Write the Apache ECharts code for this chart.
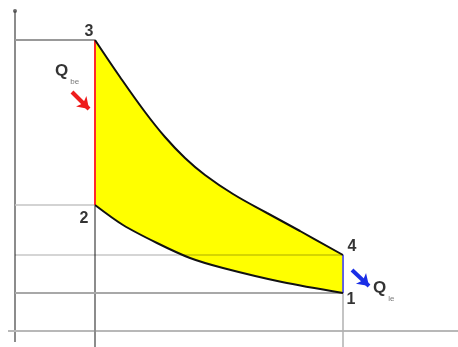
<!DOCTYPE html>
<html>
<head>
<meta charset="utf-8">
<script src="https://cdn.jsdelivr.net/npm/echarts@6/dist/echarts.min.js"></script>
<style>
html,body{margin:0;padding:0;background:#fff;}
#c{width:458px;height:347px;}
</style>
</head>
<body>
<div id="c"></div>
<script>
// Otto cycle p-V diagram (arbitrary units)
const V_upper = [4, 5.25, 6.5, 7.5, 8.5, 9.5, 10.9, 12.6, 14.25, 16.4];      // 3 -> 4 expansion
const p_upper = [14.55, 12.7, 10.95, 9.7, 8.65, 7.8, 6.85, 5.9, 5.0, 3.8];
const V_lower = [4, 5.4, 7.1, 8.75, 10.4, 13.35, 16.4];                       // 2 -> 1 compression (left to right)
const p_lower = [6.3, 5.3, 4.4, 3.65, 3.15, 2.45, 1.9];
const stateNames = ['1', '2', '3', '4'];
const heatIn = 'be';
const heatOut = 'le';

const upper = V_upper.map((v, i) => [v, p_upper[i]]);
const lower = V_lower.map((v, i) => [v, p_lower[i]]);
const P3 = upper[0], P4 = upper[upper.length - 1];
const P2 = lower[0], P1 = lower[lower.length - 1];

const chart = echarts.init(document.getElementById('c'));

function seg(a, b, color, width, z) {
  return {
    type: 'line', data: [a, b], symbol: 'none', silent: true, z: z || 1,
    lineStyle: { color: color, width: width }, animation: false
  };
}

const series = [
  // filled cycle area
  {
    type: 'custom', z: 2, silent: true, animation: false,
    data: [[0, 0]],
    renderItem: function (params, api) {
      const pts = upper.concat(lower.slice().reverse()).map(p => api.coord(p));
      return { type: 'polygon', shape: { points: pts, smooth: 0 }, style: { fill: '#ffff00', stroke: null } };
    }
  },
  // axes
  seg([0, -0.55], [0, 16.0], '#8c8c8c', 2, 1),
  seg([-0.35, 0], [22.15, 0], '#b8b8b8', 2, 1),
  // guide lines
  seg([P3[0], P3[1]], [P3[0], -0.8], '#8c8c8c', 2, 1),
  seg([P4[0], P4[1]], [P4[0], -0.8], '#b0b0b0', 1.5, 1),
  seg([0, P3[1]], [P3[0], P3[1]], '#999999', 2, 1),
  seg([0, P2[1]], [P2[0], P2[1]], '#c4c4c4', 1.5, 1),
  seg([0, P4[1]], [P4[0], P4[1]], 'rgba(0,0,0,0.22)', 1.5, 3),
  seg([0, P1[1]], [P1[0], P1[1]], '#a8a8a8', 2, 1),
  // heat addition / rejection
  seg(P2, P3, '#ff2a2a', 2, 4),
  seg(P4, P1, '#3c3cff', 1.5, 4),
  // curves
  { type: 'line', data: upper, smooth: 0.4, symbol: 'none', silent: true, z: 5, animation: false,
    lineStyle: { color: '#111', width: 2 } },
  { type: 'line', data: lower, smooth: 0.3, symbol: 'none', silent: true, z: 5, animation: false,
    lineStyle: { color: '#111', width: 2 } },
  // axis tip dot
  { type: 'scatter', data: [[0, 16.0]], symbolSize: 4, itemStyle: { color: '#444' }, silent: true, z: 6, animation: false },
  // arrows
  {
    type: 'lines', coordinateSystem: 'cartesian2d', silent: true, z: 6, animation: false,
    symbol: ['none', 'arrow'], symbolSize: 11,
    data: [
      { coords: [[2.85, 11.95], [3.7, 11.1]], lineStyle: { color: '#ee1c1c', width: 4, opacity: 1 } },
      { coords: [[16.85, 3.05], [17.7, 2.25]], lineStyle: { color: '#1a2ee6', width: 4, opacity: 1 } }
    ]
  },
  // state labels
  {
    type: 'scatter', symbolSize: 0, silent: true, z: 7, animation: false,
    data: [
      { value: P1, name: stateNames[0], label: { offset: [8, 7] } },
      { value: P2, name: stateNames[1], label: { offset: [-11, 14] } },
      { value: P3, name: stateNames[2], label: { offset: [-6, -8] } },
      { value: P4, name: stateNames[3], label: { offset: [9, -8] } }
    ],
    label: {
      show: true, position: 'inside', formatter: '{b}',
      fontFamily: 'Liberation Sans, Arial, sans-serif', fontWeight: 'bold', fontSize: 16, color: '#000'
    }
  },
  // heat labels
  {
    type: 'scatter', symbolSize: 0, silent: true, z: 7, animation: false,
    data: [
      { value: [2.0, 13.0], name: heatIn },
      { value: [17.9, 2.13], name: heatOut }
    ],
    label: {
      show: true, position: 'right', distance: 0,
      formatter: p => '{q|Q}{s|' + p.name + '}',
      rich: {
        q: { fontFamily: 'Liberation Sans, Arial, sans-serif', fontWeight: 'bold', fontSize: 17, color: '#000' },
        s: { fontFamily: 'Liberation Sans, Arial, sans-serif', fontSize: 8, color: '#555', verticalAlign: 'bottom', padding: [0, 0, -6, 2] }
      }
    }
  }
];

chart.setOption({
  animation: false,
  grid: { left: 0, right: 0, top: 0, bottom: 0 },
  xAxis: { type: 'value', min: -0.75, max: 22.15, show: false },
  yAxis: { type: 'value', min: -0.8, max: 16.55, show: false },
  series: series
});
</script>
</body>
</html>
